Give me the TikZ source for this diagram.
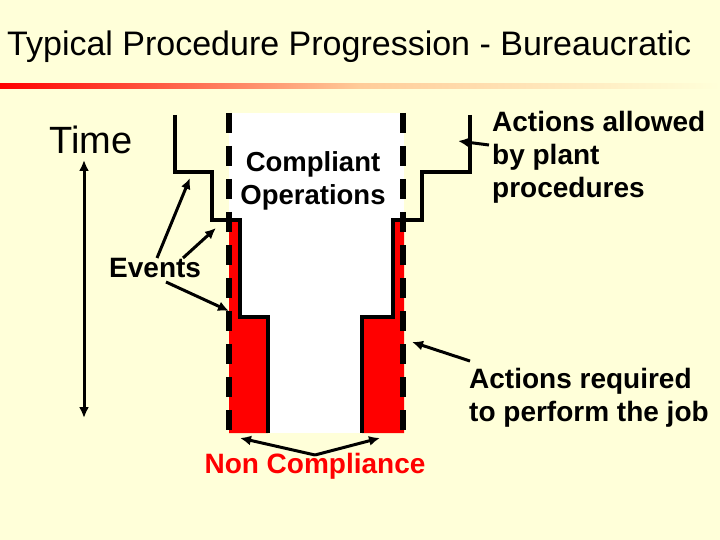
\documentclass[tikz,border=0pt]{standalone}
\usepackage{fontspec}
\setmainfont{Liberation Sans}
\usetikzlibrary{arrows.meta}
\definecolor{bg}{HTML}{FFFFD9}
\definecolor{rd}{HTML}{FF0000}
\begin{document}
\begin{tikzpicture}[x=1pt,y=-1pt,
  lbl/.style={font=\bfseries\fontsize{28}{33}\selectfont, align=left, inner sep=0pt},
  arr/.style={-{Latex[length=11pt,width=10pt]}, line width=3pt},
  wall/.style={line width=4.5pt, line join=miter},
  dashwall/.style={line width=6pt, dash pattern=on 20pt off 13pt}]
\useasboundingbox (0,0) rectangle (720,540);
\fill[bg] (0,0) rectangle (720,540);
% title
\node[anchor=west, inner sep=0pt, font=\fontsize{34}{38}\selectfont] (title) at (7,47) {Typical Procedure Progression - Bureaucratic};
\shade[left color=rd, right color=bg, middle color=orange!40] (0,84) rectangle (720,89);
% white channel and red areas
\fill[white] (229,113) rectangle (404,433);
\fill[rd] (229,220) -- (240,220) -- (240,317) -- (268,317) -- (268,433) -- (229,433) -- cycle;
\fill[rd] (404,220) -- (393,220) -- (393,317) -- (362,317) -- (362,433) -- (404,433) -- cycle;
% walls
\draw[wall] (175,115) -- (175,172) -- (212,172) -- (212,220) -- (240,220) -- (240,317) -- (268,317) -- (268,433);
\draw[wall] (470,115) -- (470,172) -- (422,172) -- (422,220) -- (393,220) -- (393,317) -- (362,317) -- (362,433);
\draw[dashwall] (229,113) -- (229,433);
\draw[dashwall] (403,113) -- (403,433);
% labels
\node[font=\fontsize{38}{42}\selectfont, inner sep=0pt] (time) at (91,140) {Time};
\node[lbl, font=\bfseries\fontsize{27.5}{33}\selectfont, align=center] (comp) at (313,181) {Compliant\\Operations};
\node[lbl, anchor=west] (allowed) at (492,157) {Actions allowed\\by plant\\procedures};
\node[lbl, anchor=west] (required) at (469,398) {Actions required\\to perform the job};
\node[lbl, anchor=west] (events) at (109,268) {Events};
\node[lbl, text=rd] (nc) at (315,466) {Non Compliance};
% coordinates
\coordinate (t1) at (84,160); \coordinate (t2) at (84,418);
\coordinate (e1) at (190,178); \coordinate (e2) at (216,228); \coordinate (e3) at (229,311);
\coordinate (a1) at (458,141); \coordinate (r1) at (412,342);
\coordinate (n1) at (240,438); \coordinate (n2) at (380,438); \coordinate (nc0) at (315,455);
% arrows
\draw[{Latex[length=11pt,width=10pt]}-{Latex[length=11pt,width=10pt]}, line width=3pt] (t1) -- (t2);
\draw[arr] (157,258) -- (e1);
\draw[arr] (183,258) -- (e2);
\draw[arr] (166,282) -- (e3);
\draw[arr] (489,145) -- (a1);
\draw[arr] (470,361) -- (r1);
\draw[arr] (nc0) -- (n1);
\draw[arr] (nc0) -- (n2);
\end{tikzpicture}
\end{document}
